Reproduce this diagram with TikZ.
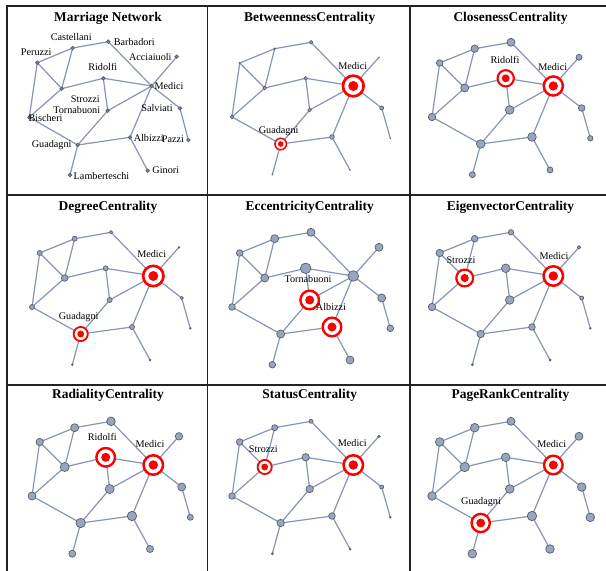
\documentclass[tikz,border=0pt]{standalone}
\usepackage{fontspec}
\setmainfont{Liberation Serif}
\definecolor{edgec}{RGB}{135,150,180}
\definecolor{vfill}{RGB}{152,165,190}
\definecolor{vdraw}{RGB}{90,96,108}
\definecolor{gridc}{RGB}{35,35,35}
\pgfdeclarelayer{back}
\pgfdeclarelayer{edges}
\pgfsetlayers{back,edges,main}
\newcommand\edgelist{Acciaiuoli/Medici, Albizzi/Ginori, Albizzi/Guadagni, Albizzi/Medici, Barbadori/Castellani, Barbadori/Medici, Bischeri/Guadagni, Bischeri/Peruzzi, Bischeri/Strozzi, Castellani/Peruzzi, Castellani/Strozzi, Guadagni/Lamberteschi, Guadagni/Tornabuoni, Medici/Ridolfi, Medici/Salviati, Medici/Tornabuoni, Peruzzi/Strozzi, Ridolfi/Strozzi, Ridolfi/Tornabuoni, Salviati/Pazzi}
\newcommand\graphpanel[4]{%
  \foreach \n/\r/\h in {#4} {%
    \ifnum\h=1
      \node[hlv, line width=0.23*\r bp, minimum size=1.77*\r bp] (#1\n) at ([shift={(#2,#3)}]L\n) {};
      \fill[red] (#1\n.center) circle[radius=0.43*\r];
    \else
      \node[vtx, minimum size=2*\r bp] (#1\n) at ([shift={(#2,#3)}]L\n) {};
    \fi
  }%
  \begin{pgfonlayer}{edges}
    \foreach \a/\b in \edgelist {\draw[edge] (#1\a.center) -- (#1\b.center);}
  \end{pgfonlayer}%
}
\begin{document}
\begin{tikzpicture}[x=1bp,y=-1bp,
  edge/.style={draw=edgec, line width=1.2bp},
  vtx/.style={circle, draw=vdraw, fill=vfill, line width=0.7bp, inner sep=0pt, outer sep=0pt},
  hlv/.style={circle, draw=red, fill=white, inner sep=0pt, outer sep=0pt},
  ttl/.style={font=\fontsize{13.4bp}{15bp}\selectfont\bfseries, inner sep=0pt},
  lbl/.style={font=\fontsize{10.2bp}{12bp}\selectfont, inner sep=0pt},
  gridline/.style={draw=gridc, line width=1.5bp}]
\useasboundingbox (0,0) rectangle (606,571);
\begin{pgfonlayer}{back}
\fill[white] (0,0) rectangle (606,571);
\end{pgfonlayer}
% grid
\draw[gridline] (7,575) -- (7,6) -- (612,6);
\draw[gridline] (207.5,6) -- (207.5,575);
\draw[gridline] (410,6) -- (410,575);
\draw[gridline] (7,195) -- (612,195);
\draw[gridline] (7,385) -- (612,385);
% base layout
\foreach \n/\x/\y in {Barbadori/111.0/42.3, Castellani/74.7/48.7, Peruzzi/39.7/63.0, Strozzi/64.7/88.0, Ridolfi/105.7/78.3, Medici/153.3/86.0, Acciaiuoli/179.0/57.3, Salviati/181.7/108.0, Pazzi/190.3/138.3, Tornabuoni/109.7/110.0, Bischeri/32.0/117.0, Guadagni/80.7/144.0, Albizzi/132.0/137.0, Ginori/150.0/170.0, Lamberteschi/72.3/174.7}
  {\coordinate (L\n) at (\x,\y);}
% panel 1 layout
\foreach \n/\x/\y in {Castellani/72.7/48, Barbadori/108.3/41.7, Peruzzi/37.3/62.7, Acciaiuoli/176.7/56.7, Ridolfi/103.3/78.3, Strozzi/61.7/88.7, Medici/151.7/86, Tornabuoni/107.7/110.7, Salviati/180/108.3, Bischeri/29.3/117.3, Guadagni/77.7/145, Albizzi/130/137.3, Pazzi/188.3/140, Ginori/147.7/170.7, Lamberteschi/70/175}
  {\node[vtx, minimum size=3.6bp, fill=vfill!80!black] (m\n) at (\x,\y) {};}
\begin{pgfonlayer}{edges}
\foreach \a/\b in \edgelist {\draw[edge] (m\a.center) -- (m\b.center);}
\end{pgfonlayer}
\foreach \n/\x/\y in {Castellani/71.2/36.7, Barbadori/134.3/42, Peruzzi/36.2/52, Acciaiuoli/150.3/56.7, Ridolfi/102.8/66.7, Medici/169/86, Strozzi/85.3/98.7, Tornabuoni/76.7/110, Salviati/157/108.3, Bischeri/45.5/117.7, Guadagni/51.7/145, Albizzi/148.8/138.3, Pazzi/173/139.3, Ginori/165.8/170, Lamberteschi/101.5/176}
  {\node[lbl] (ml\n) at (\x,\y) {\n};}
% titles
\node[ttl] (t1) at (108,18.5) {Marriage Network};
\node[ttl] (t2) at (309.7,18.5) {BetweennessCentrality};
\node[ttl] (t3) at (510.5,18.5) {ClosenessCentrality};
\node[ttl] (t4) at (108,207) {DegreeCentrality};
\node[ttl] (t5) at (309.7,207) {EccentricityCentrality};
\node[ttl] (t6) at (510.5,207) {EigenvectorCentrality};
\node[ttl] (t7) at (108,395.5) {RadialityCentrality};
\node[ttl] (t8) at (309.7,395.5) {StatusCentrality};
\node[ttl] (t9) at (510.5,395.5) {PageRankCentrality};
% Betweenness
\graphpanel{b}{200}{0}{Barbadori/1.8/0, Castellani/0.8/0, Peruzzi/0.5/0, Strozzi/1.8/0, Ridolfi/1.8/0, Medici/11.7/1, Acciaiuoli/0.3/0, Salviati/2/0, Pazzi/0.3/0, Tornabuoni/1.8/0, Bischeri/1.8/0, Guadagni/6.5/1, Albizzi/2.3/0, Ginori/0.3/0, Lamberteschi/0.3/0}
\node[lbl] (bl1) at (352.7,66) {Medici};
\node[lbl] (bl2) at (278.7,131) {Guadagni};
% Closeness
\graphpanel{c}{400}{0}{Barbadori/4/0, Castellani/3.7/0, Peruzzi/3.3/0, Strozzi/4/0, Ridolfi/9.2/1, Medici/10.8/1, Acciaiuoli/3/0, Salviati/3.3/0, Pazzi/2.7/0, Tornabuoni/4.3/0, Bischeri/3.7/0, Guadagni/4.3/0, Albizzi/4.3/0, Ginori/3/0, Lamberteschi/3/0}
\node[lbl] (cl1) at (505,60.3) {Ridolfi};
\node[lbl] (cl2) at (552.7,67.3) {Medici};
% Degree
\graphpanel{d}{0}{190}{Barbadori/1.7/0, Castellani/2.5/0, Peruzzi/2.5/0, Strozzi/3.3/0, Ridolfi/2.5/0, Medici/11.5/1, Acciaiuoli/0.8/0, Salviati/1.7/0, Pazzi/0.8/0, Tornabuoni/2.5/0, Bischeri/2.5/0, Guadagni/8/1, Albizzi/2.5/0, Ginori/0.8/0, Lamberteschi/0.8/0}
\node[lbl] (dl1) at (151.7,254.3) {Medici};
\node[lbl] (dl2) at (78.7,317.3) {Guadagni};
% Eccentricity
\graphpanel{e}{200}{190}{Barbadori/4/0, Castellani/4/0, Peruzzi/3.3/0, Strozzi/4/0, Ridolfi/5.3/0, Medici/5.3/0, Acciaiuoli/4/0, Salviati/4/0, Pazzi/3.3/0, Tornabuoni/10.5/1, Albizzi/10.5/1, Bischeri/3.3/0, Guadagni/4/0, Ginori/4/0, Lamberteschi/3.3/0}
\node[lbl] (el1) at (308,279.3) {Tornabuoni};
\node[lbl] (el2) at (331,306.7) {Albizzi};
% Eigenvector
\graphpanel{v}{400}{190}{Barbadori/2.7/0, Castellani/3.3/0, Peruzzi/3.7/0, Strozzi/9.5/1, Ridolfi/4.3/0, Medici/11/1, Acciaiuoli/1.7/0, Salviati/2/0, Pazzi/0.8/0, Tornabuoni/4.3/0, Bischeri/3.7/0, Guadagni/3.7/0, Albizzi/3.3/0, Ginori/1/0, Lamberteschi/1/0}
\node[lbl] (vl1) at (461,260) {Strozzi};
\node[lbl] (vl2) at (554,255.7) {Medici};
% Radiality
\graphpanel{r}{0}{379}{Barbadori/4.3/0, Castellani/4/0, Peruzzi/3.7/0, Strozzi/4.5/0, Ridolfi/10.5/1, Medici/11/1, Acciaiuoli/3.7/0, Salviati/4/0, Pazzi/3/0, Tornabuoni/4.5/0, Bischeri/4/0, Guadagni/4.7/0, Albizzi/4.7/0, Ginori/3.5/0, Lamberteschi/3.5/0}
\node[lbl] (rl1) at (102.3,437.3) {Ridolfi};
\node[lbl] (rl2) at (150,444) {Medici};
% Status
\graphpanel{s}{200}{379}{Barbadori/2/0, Castellani/3/0, Peruzzi/3.3/0, Strozzi/8/1, Ridolfi/3.7/0, Medici/11/1, Acciaiuoli/1.3/0, Salviati/2/0, Pazzi/0.8/0, Tornabuoni/3.7/0, Bischeri/3.3/0, Guadagni/3.7/0, Albizzi/3.3/0, Ginori/1/0, Lamberteschi/1/0}
\node[lbl] (sl1) at (263.3,449.3) {Strozzi};
\node[lbl] (sl2) at (352.3,443.3) {Medici};
% PageRank
\graphpanel{p}{400}{379}{Barbadori/4/0, Castellani/4.3/0, Peruzzi/4.3/0, Strozzi/4.7/0, Ridolfi/4.3/0, Medici/10.5/1, Acciaiuoli/4/0, Salviati/4.3/0, Pazzi/4.3/0, Tornabuoni/4.3/0, Bischeri/4.3/0, Guadagni/10.3/1, Albizzi/4.7/0, Ginori/4.3/0, Lamberteschi/4.3/0}
\node[lbl] (pl1) at (551.7,444) {Medici};
\node[lbl] (pl2) at (481,502.3) {Guadagni};
\end{tikzpicture}
\end{document}
